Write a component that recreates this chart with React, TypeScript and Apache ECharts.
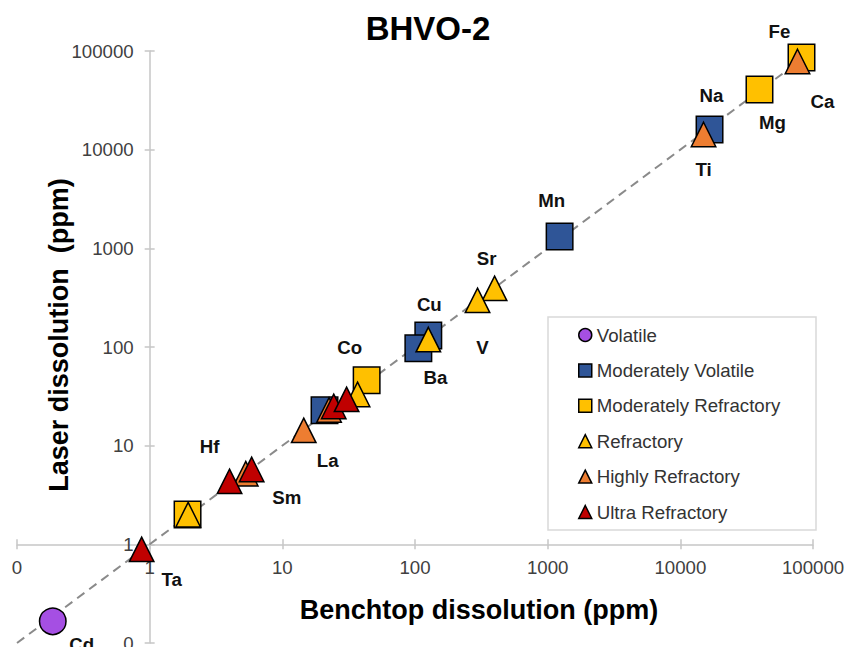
import React, { useEffect, useRef } from "react";
import * as echarts from "echarts";

// ---------- data ----------
const seriesNames = [
  "Volatile",
  "Moderately Volatile",
  "Moderately Refractory",
  "Refractory",
  "Highly Refractory",
  "Ultra Refractory",
];

// [benchtop ppm, laser ppm, element label]
const volatilePts: [number, number, string][] = [[0.186, 0.166, "Cd"]];
const moderatelyVolatilePts: [number, number, string][] = [
  [16600, 16000, "Na"],
  [1230, 1320, "Mn"],
  [126, 131, "Cu"],
  [106, 97, "Ba"],
  [20.8, 22.8, ""],
];
const moderatelyRefractoryPts: [number, number, string][] = [
  [81900, 86000, "Fe"],
  [39500, 40700, "Mg"],
  [43.2, 45.9, "Co"],
  [1.93, 2.01, ""],
];
const refractoryPts: [number, number, string][] = [
  [398, 393, "Sr"],
  [296, 297, "V"],
  [126, 119, ""],
  [36.9, 33.1, ""],
  [1.95, 2.0, ""],
];
const highlyRefractoryPts: [number, number, string][] = [
  [76400, 78300, "Ca"],
  [14960, 14250, "Ti"],
  [14.5, 14.3, "La"],
  [22.5, 23.0, ""],
  [5.3, 5.2, "Sm"],
];
const ultraRefractoryPts: [number, number, string][] = [
  [0.87, 0.89, "Ta"],
  [4.0, 4.35, "Hf"],
  [5.87, 5.75, ""],
  [24.4, 25.0, ""],
  [30.5, 29.5, ""],
];
const oneToOneLine: [number, number][] = [
  [0.1, 0.1],
  [120000, 120000],
];
const tickLabels = ["0", "1", "10", "100", "1000", "10000", "100000"];

// ---------- layout / styles ----------
const FONT = '"Liberation Sans", Arial, Helvetica, sans-serif';
const labelOffsets: Record<string, [number, number]> = {
  Cd: [29, 23],
  Ta: [30, 30],
  Hf: [-20, -35],
  Sm: [41, 24],
  La: [24, 30],
  Co: [-17, -33],
  Ba: [17, 29],
  Cu: [1, -31],
  V: [5, 47],
  Sr: [-8, -30],
  Mn: [-8, -36],
  Na: [2, -34],
  Ti: [0, 35],
  Mg: [13, 33],
  Fe: [-22, -26],
  Ca: [25, 40],
};

const GRID = { left: 17, right: 35, top: 51, bottom: 4 };
const W = 848;
const H = 647;
const decadeX = (W - GRID.left - GRID.right) / 6;
const decadeY = (H - GRID.top - GRID.bottom) / 6;
const AXIS_COLOR = "#c6c6c6";

function fmt(v: number) {
  const i = Math.round(Math.log10(v)) + 1;
  return tickLabels[i] ?? String(v);
}

function makeSeries(
  name: string,
  pts: [number, number, string][],
  symbol: string,
  size: number,
  color: string
) {
  return {
    type: "scatter",
    name,
    symbol,
    symbolSize: size,
    itemStyle: { color, borderColor: "#000", borderWidth: 1.5, opacity: 1 },
    emphasis: { disabled: true },
    label: {
      show: true,
      position: "inside",
      formatter: "{b}",
      fontSize: 18.67,
      fontWeight: "bold",
      fontFamily: FONT,
      color: "#111",
      textBorderWidth: 0,
    },
    data: pts.map(([x, y, el]) => ({
      value: [x, y],
      name: el,
      label: { show: !!el, offset: labelOffsets[el] || [0, 0] },
    })),
  };
}

export default function App() {
  const ref = useRef<HTMLDivElement>(null);

  useEffect(() => {
    if (!ref.current) return;
    const chart = echarts.init(ref.current, undefined, { renderer: "svg" });

    const axisBase: any = {
      type: "log",
      logBase: 10,
      min: 0.1,
      max: 100000,
      splitLine: { show: false },
      minorTick: { show: false },
      minorSplitLine: { show: false },
    };
    const tickStyle = { color: AXIS_COLOR, width: 1.5 };
    const labelStyle = {
      formatter: fmt,
      fontSize: 18.67,
      color: "#404040",
      fontFamily: FONT,
    };

    const option: any = {
      animation: false,
      backgroundColor: "#fff",
      grid: {
        ...GRID,
        containLabel: false,
        outerBoundsMode: "none",
      },
      xAxis: [
        {
          ...axisBase,
          position: "bottom",
          offset: -decadeY,
          axisLine: { show: true, onZero: false, lineStyle: tickStyle },
          axisTick: { show: true, inside: false, length: 5, lineStyle: tickStyle },
          axisLabel: { ...labelStyle, margin: 14 },
        },
        {
          ...axisBase,
          position: "top",
          offset: -(H - GRID.top - GRID.bottom - decadeY),
          axisLine: { show: false, onZero: false },
          axisTick: { show: true, inside: false, length: 5, lineStyle: tickStyle },
          axisLabel: { show: false },
        },
      ],
      yAxis: [
        {
          ...axisBase,
          position: "left",
          offset: -decadeX,
          axisLine: { show: true, onZero: false, lineStyle: tickStyle },
          axisTick: { show: true, inside: false, length: 5, lineStyle: tickStyle },
          axisLabel: { ...labelStyle, margin: 16 },
        },
        {
          ...axisBase,
          position: "right",
          offset: -(W - GRID.left - GRID.right - decadeX),
          axisLine: { show: false, onZero: false },
          axisTick: { show: true, inside: false, length: 5, lineStyle: tickStyle },
          axisLabel: { show: false },
        },
      ],
      legend: {
        data: seriesNames,
        orient: "vertical",
        left: 578,
        top: 325,
        padding: 0,
        itemWidth: 13,
        itemHeight: 13,
        itemGap: 15.4,
        selectedMode: false,
        textStyle: {
          fontSize: 18.67,
          color: "#333",
          fontFamily: FONT,
          lineHeight: 20,
        },
        itemStyle: { borderColor: "#000", borderWidth: 1.5 },
      },
      graphic: [
        {
          type: "rect",
          shape: { x: 548, y: 317, width: 268, height: 213 },
          style: { fill: "#fff", stroke: "#d9d9d9", lineWidth: 1.5 },
          z: -10,
        },
        {
          type: "text",
          x: 428,
          y: 28,
          style: {
            text: "BHVO-2",
            fontSize: 33,
            fontWeight: "bold",
            fontFamily: FONT,
            fill: "#000",
            align: "center",
            verticalAlign: "middle",
          },
        },
        {
          type: "text",
          x: 479,
          y: 610,
          style: {
            text: "Benchtop dissolution (ppm)",
            fontSize: 27,
            fontWeight: "bold",
            fontFamily: FONT,
            fill: "#000",
            align: "center",
            verticalAlign: "middle",
          },
        },
        {
          type: "text",
          x: 59,
          y: 335,
          rotation: Math.PI / 2,
          style: {
            text: "Laser dissolution  (ppm)",
            fontSize: 27,
            fontWeight: "bold",
            fontFamily: FONT,
            fill: "#000",
            align: "center",
            verticalAlign: "middle",
          },
        },
      ],
      series: [
        {
          type: "line",
          name: "1:1",
          data: oneToOneLine,
          symbol: "none",
          clip: false,
          silent: true,
          z: 1,
          lineStyle: { color: "#8a8a8a", width: 2, type: [9, 6] },
          emphasis: { disabled: true },
        },
        makeSeries(seriesNames[0], volatilePts, "circle", 26.5, "#a54fe3"),
        makeSeries(seriesNames[1], moderatelyVolatilePts, "rect", 26.5, "#2f5597"),
        makeSeries(seriesNames[2], moderatelyRefractoryPts, "rect", 26.5, "#ffc000"),
        makeSeries(seriesNames[3], refractoryPts, "triangle", 24.5, "#ffc000"),
        makeSeries(seriesNames[4], highlyRefractoryPts, "triangle", 24.5, "#ed7d31"),
        makeSeries(seriesNames[5], ultraRefractoryPts, "triangle", 24.5, "#c00000"),
      ],
    };

    chart.setOption(option);
    return () => chart.dispose();
  }, []);

  return (
    <div
      ref={ref}
      style={{ position: "fixed", left: 0, top: 0, width: W, height: H }}
    />
  );
}
